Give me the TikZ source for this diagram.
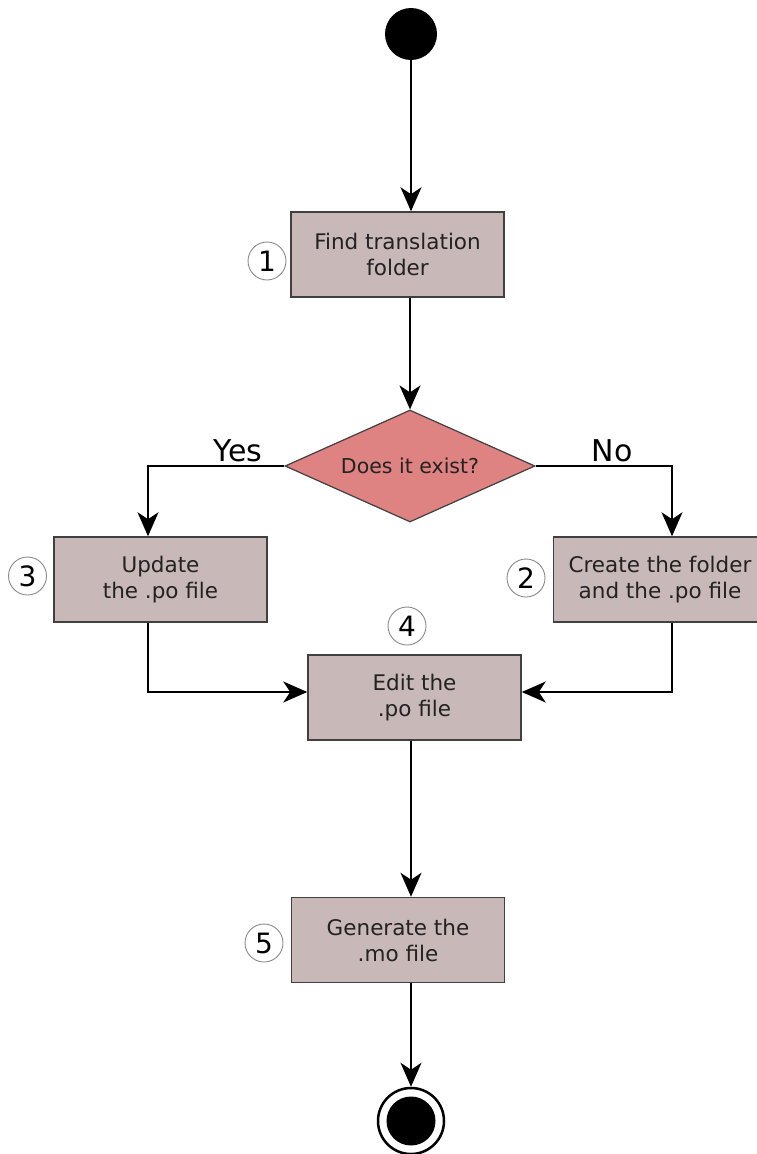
\documentclass[tikz,border=0pt]{standalone}
\usepackage{fontspec}
\setmainfont{DejaVu Sans}
\usetikzlibrary{arrows.meta,shapes.geometric}
\definecolor{boxfill}{HTML}{C9B8B8}
\definecolor{diafill}{HTML}{DE8282}
\definecolor{edge}{HTML}{404040}
\definecolor{txt}{HTML}{222222}
\definecolor{numc}{HTML}{8A8A8A}
\tikzset{
  stepbox/.style={draw=edge, line width=1.5pt, fill=boxfill, minimum width=213pt, minimum height=85pt,
    inner sep=0pt, align=center, text=txt, font=\fontsize{21.5}{26}\selectfont},
  decision/.style={diamond, aspect=2.23, draw=edge, line width=1.2pt, fill=diafill, minimum width=250pt, minimum height=112pt,
    inner sep=0pt, text=txt, font=\fontsize{20.5}{24}\selectfont},
  numcirc/.style={circle, draw=numc, line width=0.9pt, minimum size=38pt, inner sep=0pt, text=black,
    font=\fontsize{28}{28}\selectfont},
  arr/.style={line width=1.8pt, -{Stealth[length=24pt,width=21pt,inset=7pt]}},
  lbl/.style={font=\fontsize{30}{30}\selectfont, text=black, inner sep=0pt}
}
\begin{document}
\begin{tikzpicture}[x=1pt,y=-1pt]
\useasboundingbox[fill=white] (0,0) rectangle (757,1154);
% nodes
\node[circle, fill=black, minimum size=52pt, inner sep=0pt] (start) at (411,34) {};
\node[stepbox] (b1) at (397.5,254.5) {Find translation\\folder};
\node[decision] (dia) at (410,466) {Does it exist?};
\node[stepbox] (b3) at (160.5,579.5) {Update\\the .po file};
\node[stepbox] (b2) at (660,579.5) {Create the folder\\and the .po file};
\node[stepbox] (b4) at (414.5,697.5) {Edit the\\.po file};
\node[stepbox] (b5) at (398,940) {Generate the\\.mo file};
\node[circle, draw=black, line width=2.5pt, minimum size=66pt, inner sep=0pt] (stop) at (411,1121) {};
\fill[black] (stop.center) circle[radius=24.5pt];
% number markers
\node[numcirc] (n1) at (267,261) {1};
\node[numcirc] (n2) at (526,578) {2};
\node[numcirc] (n3) at (27.5,576) {3};
\node[numcirc] (n4) at (407,626) {4};
\node[numcirc] (n5) at (264,943) {5};
% labels
\node[lbl] (yes) at (238,451) {Yes};
\node[lbl] (no) at (612,451) {No};
% helper coordinates
\coordinate (yc) at (148,466);
\coordinate (nc) at (672,466);
\coordinate (lc) at (148,692);
\coordinate (rc) at (672,692);
% connectors
\draw[arr] (start) -- (start |- b1.north);
\draw[arr] (dia.north |- b1.south) -- (dia.north);
\draw[arr] (dia.west) -- (yc) -- (yc |- b3.north);
\draw[arr] (dia.east) -- (nc) -- (nc |- b2.north);
\draw[arr] (lc |- b3.south) -- (lc) -- (b4.west |- lc);
\draw[arr] (rc |- b2.south) -- (rc) -- (b4.east |- rc);
\draw[arr] (start |- b4.south) -- (start |- b5.north);
\draw[arr] (start |- b5.south) -- (stop.north);
\end{tikzpicture}
\end{document}
